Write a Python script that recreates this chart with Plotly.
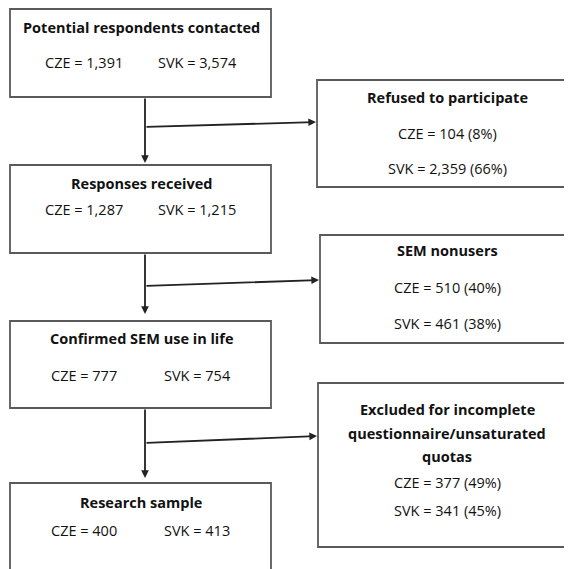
import plotly.graph_objects as go

# ---- data ----
main_titles = ["Potential respondents contacted", "Responses received",
               "Confirmed SEM use in life", "Research sample"]
main_cze = [1391, 1287, 777, 400]
main_svk = [3574, 1215, 754, 413]

side_titles = [["Refused to participate"], ["SEM nonusers"],
               ["Excluded for incomplete", "questionnaire/unsaturated", "quotas"]]
side_cze = [104, 510, 377]
side_cze_pct = [8, 40, 49]
side_svk = [2359, 461, 341]
side_svk_pct = [66, 38, 45]

# ---- layout constants (screen pixel space) ----
W, H = 564, 561          # page body has an 8px margin
OFF = 8
main_box = [(10, 9, 271, 97), (10, 165, 271, 253), (10, 321, 271, 408), (10, 483, 271, 600)]
main_title_y = [27, 183, 338, 502]
main_val_y = [62, 209, 375, 530]
side_box = [(317, 80, 590, 187), (320, 235, 590, 343), (318, 383, 590, 547)]
side_title_y = [[97], [250], [409, 433, 456]]
side_cze_y = [133, 287, 482]
side_svk_y = [168, 323, 510]
branch = [((145, 127), (316, 122)), ((145, 286), (319, 280)), ((145, 443), (317, 436))]
down = [(97, 163), (253, 314), (408, 478)]

FONT = "Open Sans"
FS = 14.5
LC = "#222222"
TC = "#111111"
fig = go.Figure()
shapes = []
ann = []
for (x0, y0, x1, y1) in main_box + side_box:
    shapes.append(dict(type="rect", x0=x0, y0=y0, x1=x1, y1=y1,
                       line=dict(color="#5a5a5a", width=1.8), fillcolor="white", layer="below"))

for i, t in enumerate(main_titles):
    ann.append(dict(x=141, y=main_title_y[i], text="<b>%s</b>" % t, showarrow=False,
                    font=dict(family=FONT, size=FS, color=TC)))
    ann.append(dict(x=84, y=main_val_y[i], text="CZE = {:,}".format(main_cze[i]), showarrow=False,
                    font=dict(family=FONT, size=FS, color=TC)))
    ann.append(dict(x=197, y=main_val_y[i], text="SVK = {:,}".format(main_svk[i]), showarrow=False,
                    font=dict(family=FONT, size=FS, color=TC)))

for i, lines in enumerate(side_titles):
    for line, yy in zip(lines, side_title_y[i]):
        ann.append(dict(x=447, y=yy, text="<b>%s</b>" % line, showarrow=False,
                        font=dict(family=FONT, size=FS, color=TC)))
    ann.append(dict(x=447, y=side_cze_y[i], text="CZE = {:,} ({}%)".format(side_cze[i], side_cze_pct[i]),
                    showarrow=False, font=dict(family=FONT, size=FS, color=TC)))
    ann.append(dict(x=447, y=side_svk_y[i], text="SVK = {:,} ({}%)".format(side_svk[i], side_svk_pct[i]),
                    showarrow=False, font=dict(family=FONT, size=FS, color=TC)))

for (y0, y1) in down:
    ann.append(dict(x=145, y=y1, ax=145, ay=y0, axref="x", ayref="y",
                    showarrow=True, arrowhead=2, arrowsize=0.85, arrowwidth=1.8, arrowcolor=LC, text=""))
for (p0, p1) in branch:
    ann.append(dict(x=p1[0], y=p1[1], ax=p0[0], ay=p0[1], axref="x", ayref="y",
                    showarrow=True, arrowhead=2, arrowsize=0.85, arrowwidth=1.8, arrowcolor=LC, text=""))

for a in ann:
    a["xref"] = "x"
    a["yref"] = "y"

fig.update_layout(width=W, height=H, margin=dict(l=0, r=0, t=0, b=0),
                  paper_bgcolor="white", plot_bgcolor="white",
                  shapes=shapes, annotations=ann, showlegend=False,
                  xaxis=dict(range=[OFF, OFF + W], visible=False, fixedrange=True),
                  yaxis=dict(range=[OFF + H, OFF], visible=False, fixedrange=True))
fig.write_html("out.html", config={"displayModeBar": False})
